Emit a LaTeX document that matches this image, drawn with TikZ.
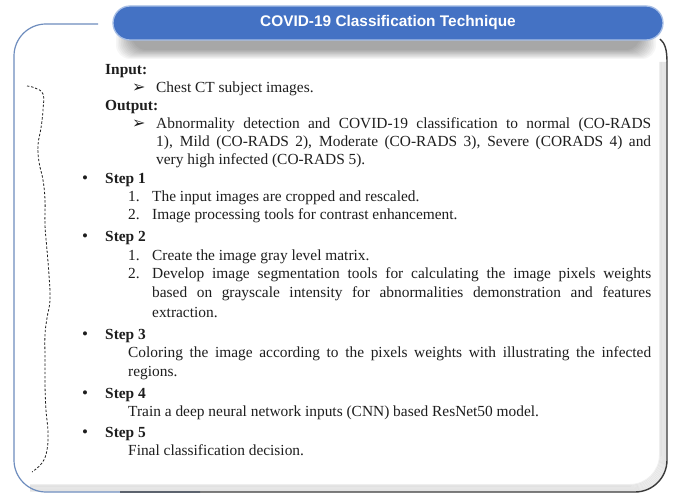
\documentclass[tikz,border=0pt]{standalone}
\usepackage{fontspec}
\setmainfont{Liberation Serif}
\newfontfamily\titlefont{Liberation Sans}
\newfontfamily\symfont{DejaVu Sans}
\definecolor{textc}{HTML}{1E1E1E}
\definecolor{framec}{HTML}{6E8DBE}
\definecolor{framedark}{HTML}{3A3A3A}
\definecolor{bannerblue}{HTML}{4472C4}
\definecolor{bannerrim}{HTML}{A8BFE6}
\tikzset{
  txt/.style={anchor=base west, inner sep=0pt, text=textc, font=\fontsize{15.4}{18}\selectfont},
  btxt/.style={txt, font=\fontsize{15.4}{18}\selectfont\bfseries},
  arrowsym/.style={anchor=base west, inner sep=0pt, text=textc, font=\symfont\fontsize{16}{17}\selectfont},
  banner/.style={fill=bannerblue, draw=bannerrim, line width=1.3pt, rounded corners=17pt,
    minimum width=550pt, minimum height=34pt, inner sep=0pt, text=white,
    font=\titlefont\bfseries\fontsize{15.4}{17}\selectfont},
  wavy/.style={draw=textc, line width=0.8pt, dash pattern=on 2.4pt off 1.8pt}
}
\newcommand{\jl}[2]{\makebox[#1pt][s]{#2}}
\begin{document}
\begin{tikzpicture}[x=1pt,y=-1pt]
\useasboundingbox (0,0) rectangle (675,497);
\fill[white] (0,0) rectangle (675,497);

% inner shadow along bottom and right of frame
\foreach \i in {1,...,8}{
  \draw[black, opacity=0.06, line width=1.6pt, rounded corners=30pt]
    (30,492-\i*0.9) -- (667-\i*0.9,492-\i*0.9) -- (667-\i*0.9,62);
}
% outer frame
\draw[framec, line width=1.2pt, rounded corners=32pt]
  (98,24) -- (14,24) -- (14,492) -- (200,492);
\draw[framedark, line width=1.4pt, rounded corners=32pt]
  (120,492) -- (667,492) -- (667,62);
\draw[framedark, line width=1.4pt] (667,62) .. controls (667,50) and (665,43) .. (660,39);

% banner shadow
\foreach \i in {0,...,10}{
  \fill[black, opacity=0.035, rounded corners=14pt]
    (132-\i*1.6,30-\i*0.6) rectangle (640+\i*1.6,50+\i*0.9);
}
% banner
\node[banner] (title) at (388,23) {COVID-19 Classification Technique};

% wavy dashed brace
\draw[wavy] plot[smooth, tension=0.7] coordinates {
  (27,86) (35,88) (43,94) (43,110) (41,128) (38,145) (39,162) (43,180)
  (45,200) (45,225) (47,250) (49,275) (50,300) (47,318) (45,335) (45,360)
  (45,385) (46,410) (48,432) (47,450) (42,463) (32,472)};

% Input / Output
\node[btxt] (inp) at (105,75) {Input:};
\node[arrowsym] (a1) at (132,93) {➢};
\node[txt] (inp1) at (156,93) {Chest CT subject images.};
\node[btxt] (outp) at (105,111) {Output:};
\node[arrowsym] (a2) at (132,129) {➢};
\node[txt] (o1) at (156,129) {\jl{495}{Abnormality detection and COVID-19 classification to normal (CO-RADS}};
\node[txt] (o2) at (156,147) {\jl{495}{1), Mild (CO-RADS 2), Moderate (CO-RADS 3), Severe (CORADS 4) and}};
\node[txt] (o3) at (156,165) {very high infected (CO-RADS 5).};

% Step 1
\node[txt, font=\fontsize{17}{18}\selectfont] (b1) at (82,184) {\textbullet};
\node[btxt] (s1) at (105,184) {Step 1};
\node[txt] (s1n1) at (128,202) {1.};
\node[txt] (s1t1) at (152,202) {The input images are cropped and rescaled.};
\node[txt] (s1n2) at (128,220) {2.};
\node[txt] (s1t2) at (152,220) {Image processing tools for contrast enhancement.};

% Step 2
\node[txt, font=\fontsize{17}{18}\selectfont] (b2) at (82,242) {\textbullet};
\node[btxt] (s2) at (105,242) {Step 2};
\node[txt] (s2n1) at (128,261) {1.};
\node[txt] (s2t1) at (152,261) {Create the image gray level matrix.};
\node[txt] (s2n2) at (128,279) {2.};
\node[txt] (s2t2) at (152,279) {\jl{499}{Develop image segmentation tools for calculating the image pixels weights}};
\node[txt] (s2t3) at (152,298) {\jl{499}{based on grayscale intensity for abnormalities demonstration and features}};
\node[txt] (s2t4) at (152,317) {extraction.};

% Step 3
\node[txt, font=\fontsize{17}{18}\selectfont] (b3) at (82,339) {\textbullet};
\node[btxt] (s3) at (105,339) {Step 3};
\node[txt] (s3t1) at (128,357) {\jl{523}{Coloring the image according to the pixels weights with illustrating the infected}};
\node[txt] (s3t2) at (128,376) {regions.};

% Step 4
\node[txt, font=\fontsize{17}{18}\selectfont] (b4) at (82,398) {\textbullet};
\node[btxt] (s4) at (105,398) {Step 4};
\node[txt] (s4t1) at (128,416) {Train a deep neural network inputs (CNN) based ResNet50 model.};

% Step 5
\node[txt, font=\fontsize{17}{18}\selectfont] (b5) at (82,437) {\textbullet};
\node[btxt] (s5) at (105,437) {Step 5};
\node[txt] (s5t1) at (128,455) {Final classification decision.};
\end{tikzpicture}
\end{document}
